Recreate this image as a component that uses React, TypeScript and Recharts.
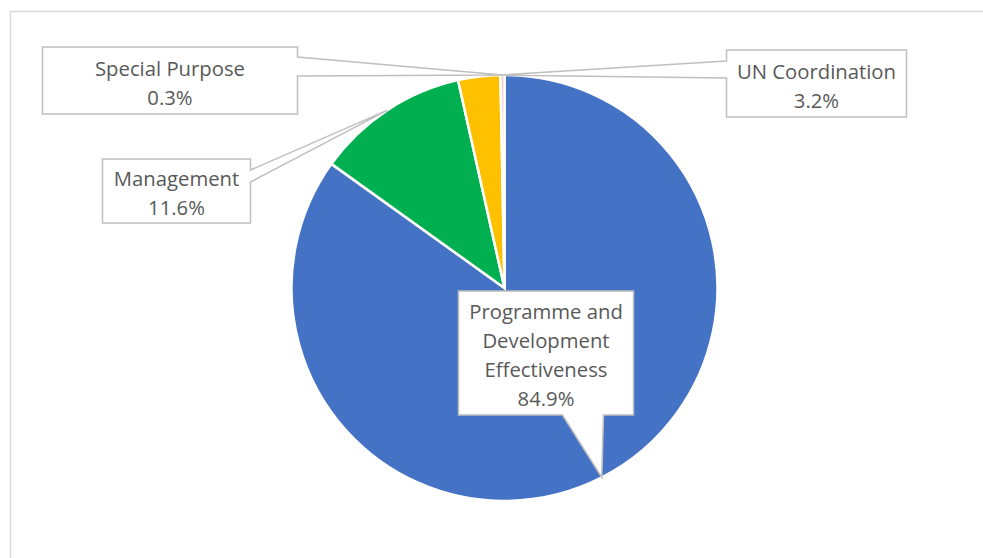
import React from 'react';
import { PieChart, Pie, Cell } from 'recharts';

const categories = ['Programme and Development Effectiveness', 'Management', 'UN Coordination', 'Special Purpose'];
const shares = [84.9, 11.6, 3.2, 0.3];
const labelLines = [['Programme and', 'Development', 'Effectiveness'], ['Management'], ['UN Coordination'], ['Special Purpose']];
const colors = ['#4472C4', '#00B050', '#FFC000', '#F6C4C4'];

// callout box layout relative to the pie centre (styling only)
const calloutLayout = [
  { dx: -46, dy: 3, w: 175, h: 124, side: 'bottom', b0: 104, b1: 145, anchor: 'mid' },
  { dx: -402, dy: -129, w: 148, h: 64, side: 'right', b0: 11, b1: 23, anchor: 'mid' },
  { dx: 222, dy: -238, w: 180, h: 67, side: 'left', b0: 11, b1: 28, anchor: 'end' },
  { dx: -462, dy: -241, w: 255, h: 67, side: 'right', b0: 10, b1: 29, anchor: 'mid' },
];

const data = categories.map((name, i) => ({ name, value: shares[i] }));
const RAD = Math.PI / 180;
const FONT = '"Open Sans", "Noto Sans", sans-serif';

function calloutPath(x: number, y: number, w: number, h: number, side: string, b0: number, b1: number, tx: number, ty: number) {
  if (side === 'right') {
    return `M${x},${y} H${x + w} V${y + b0} L${tx},${ty} L${x + w},${y + b1} V${y + h} H${x} Z`;
  }
  if (side === 'left') {
    return `M${x},${y} H${x + w} V${y + h} H${x} V${y + b1} L${tx},${ty} L${x},${y + b0} Z`;
  }
  return `M${x},${y} H${x + w} V${y + h} H${x + b1} L${tx},${ty} L${x + b0},${y + h} H${x} Z`;
}

const renderLabel = (props: any) => {
  const { cx, cy, outerRadius, midAngle, endAngle, index } = props;
  const lay = calloutLayout[index];
  const ang = lay.anchor === 'end' && endAngle !== undefined ? endAngle : midAngle;
  const tx = cx + outerRadius * Math.cos(-ang * RAD);
  const ty = cy + outerRadius * Math.sin(-ang * RAD);
  const x = cx + lay.dx;
  const y = cy + lay.dy;
  const lines = [...labelLines[index], `${shares[index].toFixed(1)}%`];
  const spacing = 29;
  const startY = y + lay.h / 2 + 1.5 - ((lines.length - 1) * spacing) / 2;
  return (
    <g key={`lbl-${index}`}>
      <path d={calloutPath(x, y, lay.w, lay.h, lay.side, lay.b0, lay.b1, tx, ty)} fill="#FFFFFF" stroke="#BFBFBF" strokeWidth={1.5} />
      {lines.map((t, i) => (
        <text key={i} x={x + lay.w / 2} y={startY + i * spacing} textAnchor="middle" dominantBaseline="central" fill="#595959" fontSize={20.3} fontFamily={FONT}>
          {t}
        </text>
      ))}
    </g>
  );
};

export default function App() {
  return (
    <div style={{ position: 'absolute', left: 0, top: 0, width: 983, height: 558, background: '#fff' }}>
      <svg width={983} height={558} style={{ position: 'absolute', left: 0, top: 0 }}>
        <rect x={10.5} y={11.5} width={1000} height={600} fill="none" stroke="#D9D9D9" strokeWidth={1.5} />
      </svg>
      <div style={{ position: 'absolute', left: 0, top: 0 }}>
        <PieChart width={983} height={558} margin={{ top: 0, right: 0, bottom: 0, left: 0 }}>
          <Pie
            data={data}
            dataKey="value"
            nameKey="name"
            cx={504.5}
            cy={288}
            outerRadius={213}
            startAngle={90}
            endAngle={-270}
            stroke="#FFFFFF"
            strokeWidth={2.5}
            label={renderLabel}
            labelLine={false}
            isAnimationActive={false}
          >
            {data.map((d, i) => (
              <Cell key={d.name} fill={colors[i]} />
            ))}
          </Pie>
        </PieChart>
      </div>
    </div>
  );
}
